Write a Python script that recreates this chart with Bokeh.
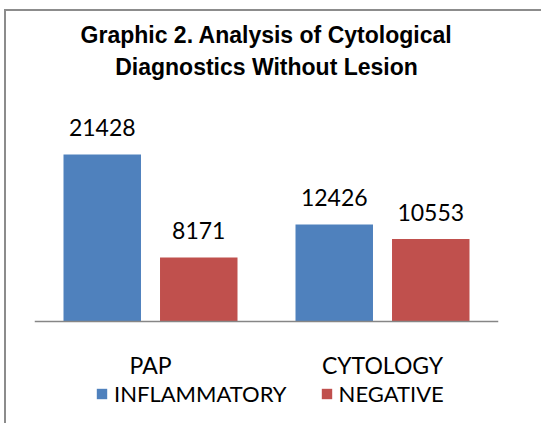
from bokeh.plotting import figure
from bokeh.models import Range1d, FactorRange, Title, Legend, LegendItem, ColumnDataSource
from bokeh.transform import dodge
from bokeh.core.properties import value
from bokeh.embed import file_html
from bokeh.resources import INLINE

# ---- data ----
categories = ["PAP", "CYTOLOGY"]
inflammatory = [21428, 12426]
negative = [8171, 10553]
series_names = ["INFLAMMATORY", "NEGATIVE"]
title_lines = ["Graphic 2. Analysis of Cytological", "Diagnostics Without Lesion"]

BLUE = "#4F81BD"
RED = "#C0504D"
LABEL_FONT = "Lato"
LABEL_SIZE = "23px"

src = ColumnDataSource(dict(
    cat=categories,
    inf=inflammatory,
    neg=negative,
    inf_lbl=[str(v) for v in inflammatory],
    neg_lbl=[str(v) for v in negative],
))

p = figure(
    width=537, height=414,
    x_range=FactorRange(*categories),
    y_range=Range1d(-13450, 30440),
    output_backend="svg", toolbar_location=None,
    title=title_lines[0],
    min_border_left=28, min_border_right=45, min_border_bottom=0, min_border_top=73,
    styles={"border-left": "2px solid #8c8c8c", "border-top": "2px solid #8c8c8c",
            "margin-left": "4px", "margin-top": "9px"},
)
p.outline_line_color = None
p.background_fill_color = "white"
p.border_fill_color = "white"

p.title.align = "center"
p.title.text_font = "Liberation Sans"
p.title.text_font_style = "bold"
p.title.text_font_size = "23px"
p.title.text_color = "black"
p.title.text_line_height = 1.0
p.title.standoff = 0
second_title = Title(text=title_lines[1], align="center", text_font="Liberation Sans",
                     text_font_style="bold", text_font_size="23px", text_color="black",
                     text_line_height=1.0, standoff=9)
p.add_layout(second_title, "above")

off = 0.208
bw = 0.334
r_inf = p.vbar(x=dodge("cat", -off, range=p.x_range), top="inf", width=bw, source=src,
               fill_color=BLUE, line_color=None)
r_neg = p.vbar(x=dodge("cat", off, range=p.x_range), top="neg", width=bw, source=src,
               fill_color=RED, line_color=None)

for xo, col, lbl in [(-off, "inf", "inf_lbl"), (off, "neg", "neg_lbl")]:
    p.text(x=dodge("cat", xo, range=p.x_range), y=col, text=lbl, source=src,
           text_align="center", text_baseline="alphabetic", y_offset=-27,
           text_font=value(LABEL_FONT), text_font_size=LABEL_SIZE, text_color="black")

p.yaxis.visible = False
p.xgrid.visible = False
p.ygrid.visible = False

ax = p.xaxis[0]
ax.fixed_location = 0
ax.axis_line_color = "#868686"
ax.axis_line_width = 1.5
ax.major_tick_line_color = None
ax.minor_tick_line_color = None
ax.major_label_text_font = LABEL_FONT
ax.major_label_text_font_size = LABEL_SIZE
ax.major_label_text_color = "black"
ax.major_label_standoff = 24

legend = Legend(items=[LegendItem(label=series_names[0], renderers=[r_inf]),
                       LegendItem(label=series_names[1], renderers=[r_neg])],
                orientation="horizontal", location=(61, 18))
legend.label_text_font = LABEL_FONT
legend.label_text_font_size = "22px"
legend.label_text_color = "black"
legend.glyph_width = 13
legend.glyph_height = 13
legend.label_standoff = 6
legend.spacing = 33
legend.padding = 0
legend.margin = 0
legend.border_line_color = None
legend.background_fill_alpha = 0
legend.label_height = 24
p.add_layout(legend)

open("out.html", "w").write(file_html(p, INLINE))
